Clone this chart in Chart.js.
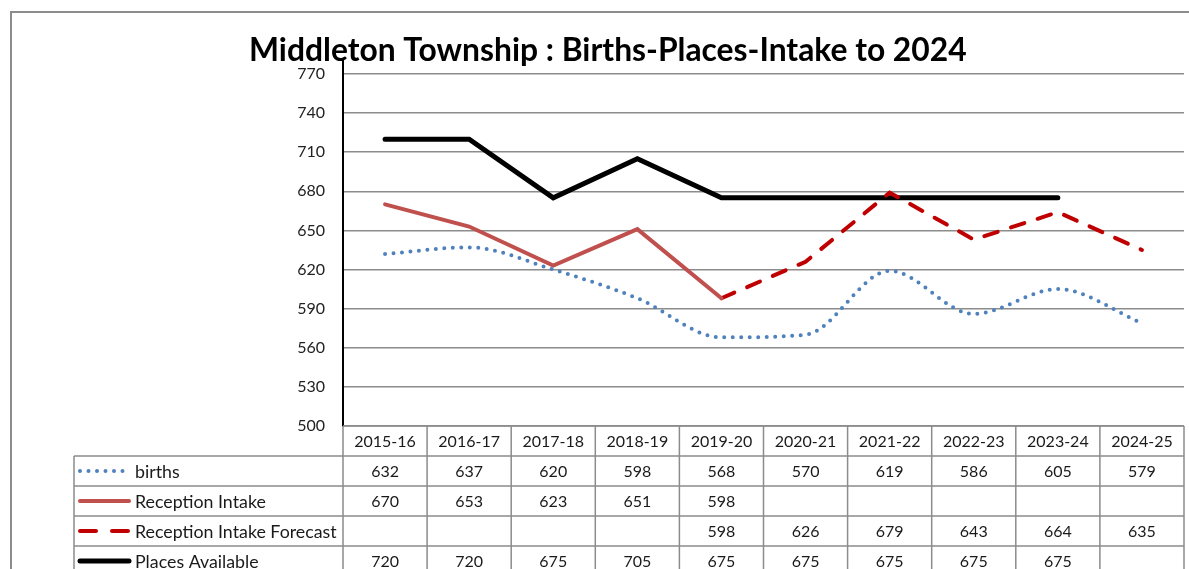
<!DOCTYPE html>
<html>
<head>
<meta charset="utf-8">
<script src="https://cdn.jsdelivr.net/npm/chart.js@4.4.1/dist/chart.umd.min.js"></script>
<style>
  html, body { margin: 0; padding: 0; background: #fff; }
  #wrap { width: 1189px; height: 569px; }
</style>
</head>
<body>
<div id="wrap"><canvas id="intake" width="1189" height="569"></canvas></div>
<script>
// data
const years = ["2015-16", "2016-17", "2017-18", "2018-19", "2019-20", "2020-21", "2021-22", "2022-23", "2023-24", "2024-25"];
const births = [632, 637, 620, 598, 568, 570, 619, 586, 605, 579];
const receptionIntake = [670, 653, 623, 651, 598, null, null, null, null, null];
const intakeForecast = [null, null, null, null, 598, 626, 679, 643, 664, 635];
const placesAvailable = [720, 720, 675, 705, 675, 675, 675, 675, 675, null];
const yTicks = [500, 530, 560, 590, 620, 650, 680, 710, 740, 770];

const title = "Middleton Township : Births-Places-Intake to 2024";
const gridGrey = "#8c8c8c";
const font = "Lato, 'Open Sans', sans-serif";

// frame, title, and the data table under the x axis
const tablePlugin = {
  id: "tablePlugin",
  afterDraw(chart) {
    const ctx = chart.ctx;
    const area = chart.chartArea;
    const x = chart.scales.x;
    const colW = (area.right - area.left) / years.length;
    const rowH = 30;
    const legendLeft = 74;

    ctx.save();
    // outer frame
    ctx.strokeStyle = gridGrey;
    ctx.lineWidth = 2;
    ctx.beginPath();
    ctx.moveTo(11, 569);
    ctx.lineTo(11, 12);
    ctx.lineTo(1189, 12);
    ctx.stroke();

    // title
    ctx.fillStyle = "#000";
    let size = 28;
    ctx.font = "bold " + size + "px " + font;
    size = size * 718 / ctx.measureText(title).width;
    ctx.font = "bold " + size.toFixed(1) + "px " + font;
    ctx.textAlign = "left";
    ctx.textBaseline = "alphabetic";
    ctx.fillText(title, 249, 61);

    // y axis runs a little above the top gridline
    ctx.strokeStyle = "#000";
    ctx.lineWidth = 2;
    ctx.beginPath();
    ctx.moveTo(area.left, area.top - 15);
    ctx.lineTo(area.left, area.top);
    ctx.stroke();

    // table grid
    const top = area.bottom;
    const rows = chart.data.datasets.length;
    ctx.strokeStyle = gridGrey;
    ctx.lineWidth = 1.5;
    ctx.beginPath();
    ctx.moveTo(area.left, top);
    ctx.lineTo(area.right, top);
    for (let r = 1; r <= rows + 1; r++) {
      ctx.moveTo(legendLeft, top + r * rowH);
      ctx.lineTo(area.right, top + r * rowH);
    }
    ctx.moveTo(legendLeft, top + rowH);
    ctx.lineTo(legendLeft, top + (rows + 1) * rowH);
    for (let c = 0; c <= years.length; c++) {
      const cx = area.left + c * colW;
      ctx.moveTo(cx, top);
      ctx.lineTo(cx, top + (rows + 1) * rowH);
    }
    ctx.stroke();

    // header labels
    ctx.fillStyle = "#1a1a1a";
    const numFont = "16px " + font;
    ctx.font = numFont;
    ctx.textAlign = "center";
    ctx.textBaseline = "middle";
    years.forEach((y, i) => {
      ctx.fillText(y, x.getPixelForValue(i), top + rowH / 2 + 1);
    });

    // legend text sized so the longest name fills its cell like the original
    ctx.font = "16px " + font;
    const longest = Math.max(...chart.data.datasets.map(d => ctx.measureText(d.label).width));
    const labelFont = (16 * 202 / longest).toFixed(1) + "px " + font;

    // series rows
    chart.data.datasets.forEach((ds, r) => {
      const cy = top + (r + 1) * rowH + rowH / 2;
      // legend swatch
      ctx.save();
      ctx.strokeStyle = ds.borderColor;
      ctx.lineWidth = ds.borderWidth;
      ctx.lineCap = ds.borderCapStyle || "butt";
      ctx.setLineDash(ds.swatchDash || ds.borderDash || []);
      ctx.beginPath();
      ctx.moveTo(80, cy);
      ctx.lineTo(129, cy);
      ctx.stroke();
      ctx.restore();

      ctx.font = labelFont;
      ctx.textAlign = "left";
      ctx.fillText(ds.label, 135, cy + 1);
      ctx.font = numFont;
      ctx.textAlign = "center";
      ds.data.forEach((v, i) => {
        if (v !== null) ctx.fillText(String(v), x.getPixelForValue(i), cy + 1);
      });
    });
    ctx.restore();
  }
};

new Chart(document.getElementById("intake"), {
  type: "line",
  data: {
    labels: years,
    datasets: [
      {
        label: "births",
        data: births,
        borderColor: "#4f81bd",
        borderWidth: 4,
        borderDash: [0, 8.5],
        swatchDash: [0, 8.5],
        borderCapStyle: "round",
        cubicInterpolationMode: "monotone",
        pointRadius: 0
      },
      {
        label: "Reception Intake",
        data: receptionIntake,
        borderColor: "#c0504d",
        borderWidth: 4,
        borderCapStyle: "round",
        pointRadius: 0
      },
      {
        label: "Reception Intake Forecast",
        data: intakeForecast,
        borderColor: "#c00000",
        borderWidth: 4,
        borderDash: [14, 14],
        swatchDash: [16, 16],
        borderCapStyle: "round",
        pointRadius: 0
      },
      {
        label: "Places Available",
        data: placesAvailable,
        borderColor: "#000000",
        borderWidth: 5,
        borderCapStyle: "round",
        pointRadius: 0
      }
    ]
  },
  options: {
    responsive: false,
    animation: false,
    layout: { padding: { left: 0, right: 5, top: 74, bottom: 143 } },
    plugins: {
      legend: { display: false },
      title: { display: false },
      tooltip: { enabled: false }
    },
    scales: {
      x: {
        display: false,
        offset: true
      },
      y: {
        min: 500,
        max: 770,
        afterBuildTicks(scale) {
          scale.ticks = yTicks.map(v => ({ value: v }));
        },
        afterFit(scale) {
          scale.width = 343;
        },
        grid: {
          color: gridGrey,
          lineWidth: 1.5,
          drawTicks: false
        },
        border: { color: "#000", width: 2 },
        ticks: {
          padding: 18,
          color: "#222",
          font: { family: font, size: 16 }
        }
      }
    }
  },
  plugins: [tablePlugin]
});
</script>
</body>
</html>
